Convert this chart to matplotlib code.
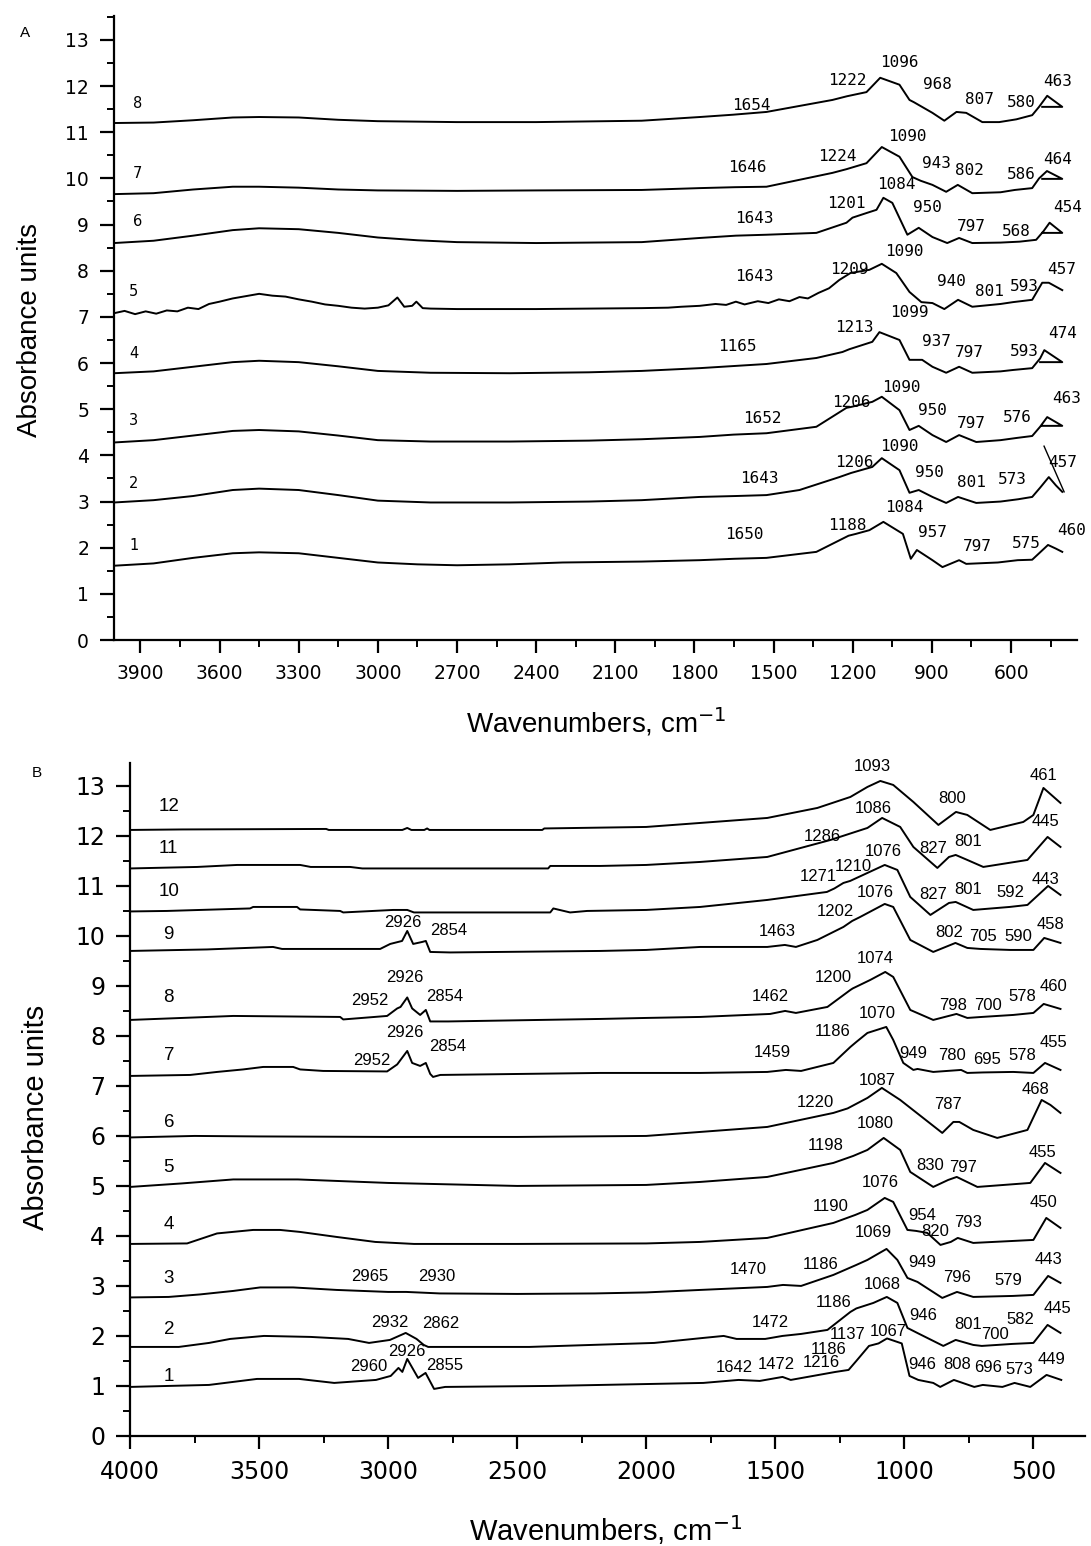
import matplotlib
matplotlib.use("Agg")
import matplotlib.pyplot as plt
from matplotlib.ticker import MultipleLocator

plt.rcParams['font.family'] = ['Liberation Sans', 'DejaVu Sans']

# ---------------- panel A : spectra 1-8 ----------------
a1_wn = [4000, 3850, 3700, 3550, 3450, 3300, 3150, 3000, 2850, 2700, 2500, 2300, 2000, 1780, 1650, 1527, 1338,
         1216, 1188, 1137, 1084, 1010, 980, 957, 898, 860, 797, 770, 650, 575, 520, 490, 460, 430, 406]
a1_ab = [1.61, 1.66, 1.78, 1.88, 1.90, 1.88, 1.78, 1.68, 1.64, 1.62, 1.64, 1.68, 1.70, 1.73, 1.76, 1.78, 1.91,
         2.26, 2.30, 2.38, 2.56, 2.30, 1.76, 1.95, 1.73, 1.58, 1.73, 1.65, 1.68, 1.73, 1.74, 1.90, 2.06, 1.98, 1.91]

a2_wn = [4000, 3850, 3700, 3550, 3450, 3300, 3150, 3000, 2800, 2500, 2200, 2000, 1780, 1643, 1527, 1402, 1251,
         1206, 1126, 1090, 1023, 985, 950, 898, 846, 801, 732, 640, 573, 520, 490, 457, 430, 406]
a2_ab = [2.98, 3.03, 3.12, 3.25, 3.28, 3.25, 3.14, 3.02, 2.98, 2.98, 3.00, 3.03, 3.10, 3.12, 3.14, 3.25, 3.53,
         3.62, 3.75, 3.94, 3.68, 3.19, 3.25, 3.10, 2.97, 3.10, 2.97, 3.00, 3.05, 3.10, 3.30, 3.53, 3.35, 3.21]

a3_wn = [4000, 3850, 3700, 3550, 3450, 3300, 3150, 3000, 2800, 2500, 2200, 2000, 1780, 1652, 1527, 1338, 1224,
         1206, 1126, 1090, 1023, 985, 950, 898, 846, 797, 732, 640, 576, 520, 490, 463, 406, 482]
a3_ab = [4.28, 4.33, 4.43, 4.53, 4.55, 4.52, 4.43, 4.33, 4.30, 4.30, 4.32, 4.35, 4.40, 4.45, 4.48, 4.62, 5.03,
         5.05, 5.16, 5.27, 4.98, 4.55, 4.64, 4.44, 4.29, 4.44, 4.29, 4.33, 4.38, 4.42, 4.62, 4.83, 4.64, 4.64]

a4_wn = [4000, 3850, 3700, 3550, 3450, 3300, 3150, 3000, 2800, 2500, 2200, 2000, 1780, 1527, 1338, 1239, 1213,
         1126, 1099, 1023, 985, 937, 898, 846, 797, 747, 640, 593, 520, 490, 474, 406, 490]
a4_ab = [5.78, 5.82, 5.92, 6.02, 6.05, 6.02, 5.93, 5.83, 5.79, 5.78, 5.80, 5.83, 5.89, 5.98, 6.11, 6.24, 6.30,
         6.46, 6.67, 6.50, 6.07, 6.07, 5.92, 5.79, 5.92, 5.79, 5.82, 5.85, 5.89, 6.10, 6.28, 6.02, 6.02]

a5_wn = [4000, 3960, 3920, 3880, 3840, 3800, 3760, 3720, 3680, 3640, 3600, 3550, 3500, 3450, 3400, 3350, 3300,
         3250, 3200, 3150, 3100, 3050, 3000, 2960, 2926, 2900, 2870, 2854, 2830, 2800, 2700, 2600, 2400, 2200,
         2000, 1900, 1850, 1780, 1720, 1680, 1643, 1610, 1560, 1520, 1480, 1440, 1402, 1370, 1330, 1290, 1251,
         1209, 1137, 1090, 1035, 985, 940, 898, 853, 801, 747, 640, 593, 520, 482, 457, 406]
a5_ab = [7.08, 7.13, 7.06, 7.12, 7.07, 7.14, 7.12, 7.20, 7.17, 7.28, 7.33, 7.40, 7.45, 7.50, 7.46, 7.44, 7.38,
         7.33, 7.27, 7.24, 7.20, 7.18, 7.20, 7.25, 7.42, 7.22, 7.24, 7.33, 7.19, 7.18, 7.17, 7.17, 7.17, 7.18,
         7.19, 7.20, 7.22, 7.24, 7.28, 7.26, 7.33, 7.27, 7.34, 7.30, 7.38, 7.34, 7.43, 7.40, 7.52, 7.62, 7.80,
         7.95, 8.02, 8.15, 7.95, 7.54, 7.32, 7.30, 7.17, 7.37, 7.22, 7.28, 7.32, 7.37, 7.74, 7.74, 7.58]

a6_wn = [4000, 3850, 3700, 3550, 3450, 3300, 3150, 3000, 2850, 2700, 2400, 2000, 1780, 1643, 1527, 1338, 1224,
         1201, 1148, 1110, 1084, 1050, 993, 950, 898, 842, 797, 747, 640, 568, 505, 478, 454, 406, 482]
a6_ab = [8.60, 8.65, 8.76, 8.88, 8.92, 8.90, 8.82, 8.72, 8.66, 8.62, 8.60, 8.62, 8.71, 8.76, 8.78, 8.82, 9.04,
         9.15, 9.25, 9.32, 9.58, 9.47, 8.78, 8.93, 8.73, 8.60, 8.71, 8.60, 8.61, 8.63, 8.67, 8.85, 9.04, 8.82, 8.82]

a7_wn = [4000, 3850, 3700, 3550, 3450, 3300, 3150, 3000, 2700, 2400, 2000, 1780, 1646, 1527, 1277, 1224, 1148,
         1090, 1023, 974, 943, 898, 846, 802, 747, 640, 586, 520, 494, 464, 406, 482]
a7_ab = [9.66, 9.68, 9.76, 9.82, 9.82, 9.80, 9.76, 9.74, 9.73, 9.74, 9.75, 9.79, 9.81, 9.82, 10.12, 10.20, 10.33,
         10.68, 10.47, 10.03, 9.95, 9.86, 9.71, 9.86, 9.68, 9.70, 9.75, 9.79, 10.00, 10.16, 9.99, 9.99]

a8_wn = [4000, 3850, 3700, 3550, 3450, 3300, 3150, 3000, 2700, 2400, 2000, 1780, 1654, 1527, 1277, 1222, 1148,
         1096, 1023, 985, 968, 898, 853, 807, 770, 709, 645, 580, 520, 494, 463, 406, 482]
a8_ab = [11.20, 11.21, 11.26, 11.32, 11.33, 11.32, 11.27, 11.24, 11.22, 11.22, 11.25, 11.33, 11.38, 11.44, 11.70,
         11.78, 11.87, 12.18, 12.03, 11.70, 11.65, 11.42, 11.25, 11.44, 11.42, 11.22, 11.22, 11.28, 11.37, 11.55,
         11.79, 11.55, 11.55]

a_curves = [(a1_wn, a1_ab), (a2_wn, a2_ab), (a3_wn, a3_ab), (a4_wn, a4_ab),
            (a5_wn, a5_ab), (a6_wn, a6_ab), (a7_wn, a7_ab), (a8_wn, a8_ab)]
a_num_txt = ['1', '2', '3', '4', '5', '6', '7', '8']
a_num_wn = [3925, 3925, 3925, 3925, 3925, 3910, 3910, 3910]
a_num_ab = [2.05, 3.40, 4.75, 6.20, 7.55, 9.06, 10.10, 11.63]

# peak labels (text, position)
a_pk_txt = ['1650', '1188', '1084', '957', '797', '575', '460',
            '1643', '1206', '1090', '950', '801', '573', '457',
            '1652', '1206', '1090', '950', '797', '576', '463',
            '1165', '1213', '1099', '937', '797', '593', '474',
            '1643', '1209', '1090', '940', '801', '593', '457',
            '1643', '1201', '1084', '950', '797', '568', '454',
            '1646', '1224', '1090', '943', '802', '586', '464',
            '1654', '1222', '1096', '968', '807', '580', '463']
a_pk_wn = [1610, 1220, 1004, 898, 728, 543, 372,
           1553, 1194, 1023, 910, 751, 595, 406,
           1542, 1205, 1016, 898, 751, 576, 391,
           1636, 1194, 985, 883, 758, 550, 406,
           1572, 1213, 1004, 827, 683, 550, 410,
           1572, 1224, 1035, 917, 751, 580, 387,
           1599, 1258, 993, 883, 758, 561, 425,
           1584, 1220, 1023, 880, 720, 561, 425]
a_pk_ab = [2.28, 2.49, 2.88, 2.32, 2.02, 2.10, 2.38,
           3.49, 3.84, 4.20, 3.64, 3.42, 3.47, 3.84,
           4.81, 5.14, 5.48, 4.98, 4.70, 4.83, 5.24,
           6.35, 6.78, 7.09, 6.46, 6.22, 6.24, 6.65,
           7.87, 8.02, 8.41, 7.76, 7.56, 7.65, 8.02,
           9.14, 9.45, 9.86, 9.36, 8.95, 8.86, 9.36,
           10.23, 10.47, 10.90, 10.33, 10.18, 10.08, 10.42,
           11.59, 12.13, 12.52, 12.03, 11.72, 11.64, 12.09]
a_arrow_wn = [475, 399]
a_arrow_ab = [4.20, 3.21]

# ---------------- panel B : spectra 1-12 ----------------
b1_wn = [4000, 3850, 3694, 3508, 3345, 3209, 3047, 2990, 2960, 2945, 2926, 2884, 2855, 2822, 2779, 2372, 1779,
         1642, 1560, 1472, 1440, 1267, 1216, 1186, 1137, 1100, 1067, 1010, 980, 946, 888, 861, 808, 729, 696,
         620, 573, 512, 449, 392]
b1_ab = [0.98, 1.00, 1.02, 1.14, 1.14, 1.06, 1.12, 1.20, 1.36, 1.28, 1.54, 1.16, 1.26, 0.94, 0.98, 1.00, 1.06,
         1.12, 1.10, 1.18, 1.12, 1.28, 1.32, 1.50, 1.80, 1.85, 1.95, 1.85, 1.20, 1.12, 1.06, 0.98, 1.12, 0.98, 1.02,
         0.98, 1.06, 0.98, 1.22, 1.12]

b2_wn = [4000, 3811, 3694, 3612, 3481, 3300, 3155, 3074, 2993, 2932, 2890, 2862, 2845, 2453, 1969, 1779, 1700,
         1650, 1539, 1472, 1400, 1298, 1209, 1186, 1120, 1068, 1027, 988, 946, 849, 801, 733, 700, 640, 582,
         500, 445, 395]
b2_ab = [1.78, 1.78, 1.86, 1.94, 2.00, 1.98, 1.94, 1.86, 1.92, 2.06, 1.94, 1.82, 1.78, 1.78, 1.86, 1.96, 2.00,
         1.94, 1.94, 2.00, 2.04, 2.12, 2.48, 2.55, 2.66, 2.78, 2.66, 2.16, 2.05, 1.80, 1.92, 1.82, 1.80, 1.82, 1.84,
         1.86, 2.22, 2.06]

b3_wn = [4000, 3850, 3729, 3600, 3496, 3368, 3200, 3000, 2930, 2800, 2500, 2200, 2000, 1791, 1531, 1470, 1400,
         1275, 1186, 1143, 1069, 1027, 988, 949, 853, 796, 733, 579, 500, 443, 395]
b3_ab = [2.77, 2.78, 2.83, 2.90, 2.97, 2.97, 2.92, 2.88, 2.88, 2.85, 2.84, 2.85, 2.87, 2.92, 2.98, 3.02, 3.00,
         3.22, 3.42, 3.52, 3.74, 3.52, 3.16, 3.08, 2.76, 2.88, 2.78, 2.80, 2.82, 3.20, 3.06]

b4_wn = [4000, 3779, 3663, 3523, 3419, 3341, 3200, 3050, 2900, 2500, 2000, 1791, 1531, 1275, 1190, 1143, 1076,
         1043, 988, 954, 911, 860, 820, 793, 733, 500, 450, 395]
b4_ab = [3.84, 3.85, 4.05, 4.12, 4.12, 4.08, 3.98, 3.88, 3.84, 3.84, 3.85, 3.88, 3.96, 4.26, 4.42, 4.52, 4.76,
         4.68, 4.12, 4.10, 4.06, 3.82, 3.88, 3.96, 3.86, 3.92, 4.36, 4.16]

b5_wn = [4000, 3800, 3600, 3350, 3000, 2500, 2000, 1791, 1531, 1275, 1198, 1143, 1080, 1016, 977, 888, 830, 797,
         717, 512, 455, 395]
b5_ab = [4.98, 5.05, 5.13, 5.13, 5.06, 5.00, 5.02, 5.08, 5.18, 5.46, 5.60, 5.72, 5.96, 5.72, 5.28, 4.98, 5.12, 5.18,
         4.98, 5.06, 5.46, 5.26]

b6_wn = [4000, 3750, 3500, 3000, 2500, 2000, 1791, 1531, 1275, 1220, 1143, 1087, 1016, 853, 810, 787, 733, 640,
         523, 468, 434, 395]
b6_ab = [5.97, 6.00, 5.99, 5.98, 5.98, 6.00, 6.08, 6.18, 6.46, 6.55, 6.76, 6.96, 6.72, 6.06, 6.28, 6.28, 6.12, 5.96,
         6.12, 6.72, 6.62, 6.46]

b7_wn = [4000, 3767, 3663, 3562, 3484, 3368, 3341, 3252, 3004, 2965, 2952, 2926, 2907, 2876, 2854, 2837, 2826,
         2798, 2178, 2000, 1791, 1531, 1459, 1400, 1275, 1209, 1186, 1143, 1070, 1043, 1004, 965, 949, 888, 780,
         756, 695, 578, 500, 455, 395]
b7_ab = [7.20, 7.22, 7.28, 7.33, 7.38, 7.38, 7.33, 7.30, 7.29, 7.43, 7.52, 7.70, 7.46, 7.40, 7.46, 7.24, 7.18,
         7.22, 7.26, 7.26, 7.26, 7.28, 7.32, 7.30, 7.46, 7.78, 7.88, 8.06, 8.18, 7.92, 7.46, 7.32, 7.34, 7.28, 7.32,
         7.26, 7.27, 7.28, 7.26, 7.46, 7.32]

b8_wn = [4000, 3748, 3600, 3186, 3174, 3004, 2965, 2952, 2926, 2907, 2876, 2854, 2837, 2767, 2178, 2000, 1791,
         1520, 1462, 1420, 1298, 1209, 1200, 1132, 1074, 1043, 977, 888, 798, 756, 700, 578, 500, 460, 395]
b8_ab = [8.32, 8.37, 8.40, 8.38, 8.33, 8.40, 8.55, 8.58, 8.77, 8.55, 8.42, 8.52, 8.29, 8.29, 8.34, 8.36, 8.38,
         8.44, 8.50, 8.46, 8.58, 8.92, 8.95, 9.12, 9.28, 9.18, 8.52, 8.32, 8.44, 8.36, 8.38, 8.42, 8.46, 8.64, 8.54]

b9_wn = [4000, 3702, 3446, 3411, 3031, 2992, 2946, 2926, 2903, 2868, 2854, 2837, 2760, 2178, 2000, 1791, 1531,
         1463, 1420, 1337, 1236, 1202, 1171, 1076, 1043, 977, 888, 802, 756, 705, 590, 500, 458, 395]
b9_ab = [9.70, 9.73, 9.78, 9.74, 9.74, 9.84, 9.90, 10.10, 9.84, 9.88, 9.90, 9.68, 9.67, 9.70, 9.72, 9.78, 9.78,
         9.82, 9.78, 9.92, 10.18, 10.30, 10.38, 10.64, 10.58, 9.92, 9.68, 9.86, 9.76, 9.74, 9.72, 9.72, 9.96, 9.86]

b10_wn = [4000, 3857, 3535, 3523, 3353, 3341, 3186, 3174, 2981, 2926, 2900, 2372, 2360, 2295, 2229, 2000, 1791,
          1531, 1300, 1271, 1236, 1210, 1143, 1076, 1027, 977, 899, 827, 801, 733, 592, 523, 443, 395]
b10_ab = [10.49, 10.50, 10.55, 10.58, 10.58, 10.53, 10.50, 10.47, 10.52, 10.52, 10.47, 10.47, 10.55, 10.47, 10.50,
          10.52, 10.58, 10.72, 10.88, 10.95, 11.06, 11.10, 11.26, 11.42, 11.32, 10.78, 10.42, 10.66, 10.68, 10.52,
          10.58, 10.62, 11.00, 10.82]

b11_wn = [4000, 3740, 3585, 3341, 3300, 3147, 3100, 2380, 2372, 2178, 2000, 1791, 1531, 1286, 1143, 1086, 1016,
          965, 872, 827, 801, 756, 694, 523, 445, 395]
b11_ab = [11.35, 11.38, 11.42, 11.42, 11.38, 11.38, 11.35, 11.35, 11.40, 11.40, 11.42, 11.48, 11.58, 11.92, 12.16,
          12.36, 12.18, 11.78, 11.36, 11.58, 11.62, 11.52, 11.38, 11.52, 11.98, 11.78]

b12_wn = [4000, 3800, 3240, 3230, 2945, 2926, 2910, 2860, 2849, 2840, 2403, 2395, 2000, 1791, 1531, 1337, 1209,
          1143, 1093, 1043, 965, 868, 800, 756, 667, 539, 500, 461, 395]
b12_ab = [12.12, 12.13, 12.14, 12.12, 12.12, 12.16, 12.12, 12.12, 12.15, 12.12, 12.12, 12.15, 12.18, 12.26, 12.36,
          12.56, 12.78, 12.98, 13.10, 13.02, 12.68, 12.22, 12.48, 12.42, 12.12, 12.28, 12.42, 12.96, 12.66]

b_curves = [(b1_wn, b1_ab), (b2_wn, b2_ab), (b3_wn, b3_ab), (b4_wn, b4_ab), (b5_wn, b5_ab), (b6_wn, b6_ab),
            (b7_wn, b7_ab), (b8_wn, b8_ab), (b9_wn, b9_ab), (b10_wn, b10_ab), (b11_wn, b11_ab), (b12_wn, b12_ab)]
b_num_txt = ['1', '2', '3', '4', '5', '6', '7', '8', '9', '10', '11', '12']
b_num_wn = [3850, 3850, 3850, 3850, 3850, 3850, 3850, 3850, 3850, 3850, 3850, 3850]
b_num_ab = [1.18, 2.12, 3.14, 4.22, 5.37, 6.27, 7.60, 8.76, 10.02, 10.88, 11.74, 12.58]

b_pk_txt = ['2960', '2926', '2855', '1642', '1472', '1216', '1186', '1137', '1067', '946', '808', '696', '573', '449',
            '2932', '2862', '1472', '1186', '1068', '946', '801', '700', '582', '445',
            '2965', '2930', '1470', '1186', '1069', '949', '796', '579', '443',
            '1190', '1076', '954', '820', '793', '450',
            '1198', '1080', '830', '797', '455',
            '1220', '1087', '787', '468',
            '2952', '2926', '2854', '1459', '1186', '1070', '949', '780', '695', '578', '455',
            '2952', '2926', '2854', '1462', '1200', '1074', '798', '700', '578', '460',
            '2926', '2854', '1463', '1202', '1076', '802', '705', '590', '458',
            '1271', '1210', '1076', '827', '801', '592', '443',
            '1286', '1086', '827', '801', '445',
            '1093', '800', '461']
b_pk_wn = [3074, 2926, 2779, 1659, 1496, 1322, 1295, 1221, 1062, 930, 795, 674, 554, 430,
           2992, 2798, 1519, 1275, 1085, 926, 752, 647, 550, 407,
           3070, 2810, 1605, 1326, 1120, 930, 795, 597, 442,
           1287, 1093, 930, 880, 752, 461,
           1306, 1112, 899, 771, 465,
           1345, 1105, 829, 492,
           3062, 2934, 2771, 1512, 1279, 1105, 965, 814, 678, 543, 422,
           3070, 2934, 2779, 1519, 1275, 1112, 810, 674, 543, 422,
           2942, 2767, 1492, 1267, 1112, 826, 694, 558, 434,
           1333, 1198, 1081, 888, 752, 589, 453,
           1318, 1120, 888, 752, 453,
           1124, 814, 461]
b_pk_ab = [1.38, 1.68, 1.40, 1.36, 1.42, 1.46, 1.72, 2.02, 2.08, 1.42, 1.42, 1.36, 1.32, 1.52,
           2.26, 2.24, 2.26, 2.66, 3.02, 2.40, 2.22, 2.02, 2.32, 2.54,
           3.18, 3.18, 3.32, 3.42, 4.06, 3.46, 3.16, 3.10, 3.52,
           4.58, 5.06, 4.40, 4.08, 4.26, 4.66,
           5.80, 6.24, 5.40, 5.36, 5.66,
           6.66, 7.10, 6.62, 6.92,
           7.50, 8.06, 7.78, 7.66, 8.08, 8.44, 7.64, 7.60, 7.52, 7.60, 7.86,
           8.70, 9.16, 8.78, 8.78, 9.16, 9.54, 8.60, 8.60, 8.78, 8.98,
           10.26, 10.10, 10.08, 10.48, 10.86, 10.06, 9.98, 9.98, 10.22,
           11.18, 11.38, 11.68, 10.82, 10.92, 10.86, 11.12,
           11.98, 12.54, 11.74, 11.88, 12.28,
           13.38, 12.74, 13.20]

# ---------------- drawing ----------------
fig = plt.figure(figsize=(10.91, 15.46), dpi=100)
axA = fig.add_axes([0.1045, 0.586, 0.8827, 0.4037])
axB = fig.add_axes([0.1192, 0.0712, 0.8753, 0.4353])


def style_axes(ax, xlim, ylim, xmaj, xmin, tick_font, tick_size):
    ax.set_xlim(*xlim)
    ax.set_ylim(*ylim)
    for s in ['top', 'right']:
        ax.spines[s].set_visible(False)
    for s in ['left', 'bottom']:
        ax.spines[s].set_linewidth(1.6)
    ax.xaxis.set_major_locator(MultipleLocator(xmaj))
    ax.xaxis.set_minor_locator(MultipleLocator(xmin))
    ax.yaxis.set_major_locator(MultipleLocator(1))
    ax.yaxis.set_minor_locator(MultipleLocator(0.5))
    ax.tick_params(which='major', direction='out', length=9, width=1.6, pad=8)
    ax.tick_params(which='minor', direction='out', length=5, width=1.4)
    ax.tick_params(axis='y', which='major', length=10)
    for lab in ax.get_xticklabels() + ax.get_yticklabels():
        lab.set_fontfamily(tick_font)
        lab.set_fontsize(tick_size)


# panel A
for wn, ab in a_curves:
    axA.plot(wn, ab, color='black', lw=1.4)
for t, x, y in zip(a_num_txt, a_num_wn, a_num_ab):
    axA.text(x, y, t, ha='center', va='center', fontsize=10.5, fontfamily='DejaVu Sans')
for t, x, y in zip(a_pk_txt, a_pk_wn, a_pk_ab):
    axA.text(x, y, t, ha='center', va='center', fontsize=11.5, fontfamily='DejaVu Sans Mono')
axA.plot(a_arrow_wn, a_arrow_ab, color='black', lw=1.0)
style_axes(axA, (4000, 350), (0, 13.52), 300, 150, 'DejaVu Sans', 13.5)
axA.set_xticks(range(3900, 599, -300))
for lab in axA.get_xticklabels():
    lab.set_fontfamily('DejaVu Sans')
    lab.set_fontsize(13.5)

# panel B
for wn, ab in b_curves:
    axB.plot(wn, ab, color='black', lw=1.4)
for t, x, y in zip(b_num_txt, b_num_wn, b_num_ab):
    axB.text(x, y, t, ha='center', va='center', fontsize=13.5)
for t, x, y in zip(b_pk_txt, b_pk_wn, b_pk_ab):
    axB.text(x, y, t, ha='center', va='center', fontsize=12)
style_axes(axB, (4000, 300), (0, 13.46), 500, 250, 'Liberation Sans Narrow', 17)

# axis titles and panel letters
fig.text(30 / 1091, 1 - 330 / 1546, 'Absorbance units', rotation=90, ha='center', va='center', fontsize=20)
fig.text(36 / 1091, 1 - 1117 / 1546, 'Absorbance units', rotation=90, ha='center', va='center', fontsize=21)
fig.text(596 / 1091, 1 - 722 / 1546, 'Wavenumbers, cm$^{-1}$', ha='center', va='center', fontsize=20)
fig.text(606 / 1091, 1 - 1530 / 1546, 'Wavenumbers, cm$^{-1}$', ha='center', va='center', fontsize=21)
fig.text(25 / 1091, 1 - 33 / 1546, 'A', ha='center', va='center', fontsize=11)
fig.text(37 / 1091, 1 - 773 / 1546, 'B', ha='center', va='center', fontsize=11)

fig.savefig('out.png', dpi=100)
